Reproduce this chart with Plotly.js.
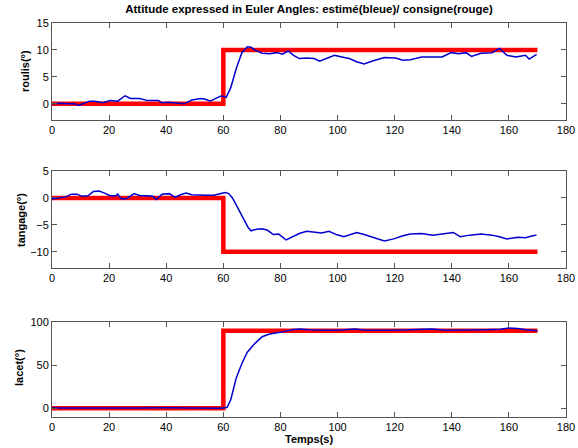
<!DOCTYPE html>
<html>
<head>
<meta charset="utf-8">
<script src="https://cdn.plot.ly/plotly-3.0.1.min.js"></script>
<style>html,body{margin:0;padding:0;background:#fff;}#chart{width:578px;height:448px;}</style>
</head>
<body>
<div id="chart"></div>
<script>
// reference (consigne) step values
const tRef = [0, 60, 170];
const refRoll = [0, 10, 10];
const refPitch = [0, -10, -10];
const refYaw = [0, 90, 90];

// estimated roll (roulis)
const tRoll = [0, 3, 6, 8, 9.3, 11, 13.2, 15, 17.8, 20.4, 23, 25.6, 27.5, 30.8, 33.4, 37.3, 38.5, 41, 43.7, 46.3, 49, 52.2, 54, 55.4, 57.4, 59.3, 61, 62.6, 64.5, 66.5, 68.4, 69.7, 71, 73.6, 76.2, 78.8, 80.7, 82.7, 84.6, 86.6, 89.2, 91.8, 93.7, 95.7, 98.9, 101.5, 104.1, 106.7, 109.3, 112.5, 116.4, 120.3, 122.9, 125.5, 129.4, 133.3, 136.6, 139.8, 142.4, 145, 146.9, 150.2, 154.1, 156.7, 159.3, 162.5, 165.8, 167.1, 169.7];
const roll = [0, 0.1, 0, 0, -0.3, 0, 0.5, 0.5, 0.2, 0.6, 0.5, 1.5, 1.0, 1.0, 0.6, 0.6, 0.2, 0.3, 0.1, 0.0, 0.7, 1.0, 0.8, 0.5, 1.0, 1.5, 1.2, 3.0, 6.5, 9.5, 10.6, 10.5, 10.0, 9.4, 9.3, 9.5, 9.2, 9.8, 9.0, 8.4, 8.5, 8.4, 7.9, 8.3, 9.0, 8.7, 8.4, 7.8, 7.4, 8.0, 8.6, 8.5, 8.1, 8.2, 8.7, 8.7, 8.7, 9.5, 9.3, 9.5, 8.8, 9.4, 9.5, 10.3, 9.0, 8.7, 9.0, 8.3, 9.2];

// estimated pitch (tangage)
const tPitch = [0, 2.2, 4.8, 6.7, 8.7, 10.6, 12.6, 14.5, 16.5, 18.4, 20.4, 22.3, 23, 24.3, 26.2, 28.8, 30.8, 33.4, 35.3, 36.6, 38.5, 41.1, 43.1, 45, 47, 48.9, 51.5, 54.1, 56.7, 58.7, 60.6, 61.9, 63.2, 65.2, 67.1, 68.7, 69.7, 71.6, 73.6, 75.5, 77.5, 79.4, 82, 84, 86.6, 89.2, 91.8, 94.4, 97, 99.6, 102.2, 104.8, 106.7, 109.3, 112.5, 116.4, 119.7, 122.9, 125.5, 129.4, 133.3, 137.2, 140.5, 143, 146.3, 150.2, 154.1, 156.7, 159.3, 163.2, 165.8, 168.4, 169.7];
const pitch = [-0.2, 0, 0.2, 0.7, 0.7, 0.3, 0.4, 1.2, 1.3, 0.9, 0.4, 0.4, 0.7, -0.2, -0.1, 0.8, 0.4, 0.4, 0.3, -0.3, 0.7, 0.8, 0.1, 0.6, 0.9, 0.6, 0.5, 0.5, 0.5, 0.7, 1.0, 0.8, 0, -2, -4, -5.5, -6.1, -5.8, -5.7, -6.0, -6.8, -6.7, -7.8, -7.3, -6.6, -6.2, -6.3, -6.5, -6.2, -6.8, -7.2, -6.7, -6.4, -6.8, -7.3, -8.0, -7.6, -7.0, -6.7, -6.6, -6.9, -6.7, -6.4, -7.2, -6.9, -6.7, -6.9, -7.2, -7.6, -7.3, -7.4, -7.0, -6.9];

// estimated yaw (lacet)
const tYaw = [0, 10, 20, 30, 40, 50, 59, 61.3, 62.6, 64.5, 66.5, 68.4, 71, 73.6, 76.2, 80, 84, 86.6, 90, 95, 100, 106, 110, 120, 128, 133, 138, 145, 152, 157, 160, 163, 166, 170];
const yaw = [0.5, 0.3, 0.6, 0.4, 0.7, 0.3, 0.2, 1, 10, 35, 52, 65, 75, 83, 86, 88, 91, 92, 91, 90.5, 90.5, 92, 90.5, 90.5, 91, 92, 90.5, 90.5, 91, 91.5, 93, 92.5, 91, 90];

const ylabels = ['roulis(°)', 'tangage(°)', 'lacet(°)'];
const xTicks = [0, 20, 40, 60, 80, 100, 120, 140, 160, 180];

const red = {color: '#ff0000', width: 4.5, shape: 'hv'};
const blue = {color: '#0000d0', width: 1.5};

const data = [
  {x: tRef, y: refRoll, xaxis: 'x', yaxis: 'y', mode: 'lines', line: red},
  {x: tRoll, y: roll, xaxis: 'x', yaxis: 'y', mode: 'lines', line: blue},
  {x: tRef, y: refPitch, xaxis: 'x2', yaxis: 'y2', mode: 'lines', line: red},
  {x: tPitch, y: pitch, xaxis: 'x2', yaxis: 'y2', mode: 'lines', line: blue},
  {x: tRef, y: refYaw, xaxis: 'x3', yaxis: 'y3', mode: 'lines', line: red},
  {x: tYaw, y: yaw, xaxis: 'x3', yaxis: 'y3', mode: 'lines', line: blue}
];

const H = 448;
const dom = (top, bot) => [1 - bot / H, 1 - top / H];
const font = {family: 'Liberation Sans, Arial, sans-serif', size: 11, color: '#000'};
const axBase = {
  showline: true, linecolor: '#555', linewidth: 1, mirror: 'ticks',
  ticks: 'inside', ticklen: 5, tickcolor: '#555', showgrid: false, zeroline: false,
  tickfont: font
};
const xax = (anchor) => Object.assign({}, axBase, {range: [0, 180], tickvals: xTicks, ticktext: xTicks.map(String), anchor: anchor});

const layout = {
  width: 578, height: 448,
  margin: {l: 52, r: 12, t: 0, b: 0},
  paper_bgcolor: '#fff', plot_bgcolor: '#fff',
  showlegend: false,
  font: font,
  title: {text: '<b>Attitude expressed in Euler Angles: estimé(bleue)/ consigne(rouge)</b>', font: {family: font.family, size: 11.5, color: '#000'}, x: 0.5, xref: 'paper', y: 1 - 9 / H, yref: 'container', yanchor: 'middle'},
  xaxis: xax('y'),
  xaxis2: xax('y2'),
  xaxis3: xax('y3'),
  yaxis: Object.assign({}, axBase, {domain: dom(23, 120), range: [-3, 15], tickvals: [0, 5, 10, 15], anchor: 'x'}),
  yaxis2: Object.assign({}, axBase, {domain: dom(171, 268), range: [-13, 5], tickvals: [-10, -5, 0, 5], anchor: 'x2'}),
  yaxis3: Object.assign({}, axBase, {domain: dom(322, 417), range: [-10, 100], tickvals: [0, 50, 100], anchor: 'x3'}),
  annotations: [
    {text: '<b>' + ylabels[0] + '</b>', xref: 'paper', yref: 'paper', x: (25 - 52) / 514, y: 1 - 71 / H, textangle: -90, showarrow: false, font: font, xanchor: 'center', yanchor: 'middle'},
    {text: '<b>' + ylabels[1] + '</b>', xref: 'paper', yref: 'paper', x: (21 - 52) / 514, y: 1 - 220 / H, textangle: -90, showarrow: false, font: font, xanchor: 'center', yanchor: 'middle'},
    {text: '<b>' + ylabels[2] + '</b>', xref: 'paper', yref: 'paper', x: (19 - 52) / 514, y: 1 - 368 / H, textangle: -90, showarrow: false, font: font, xanchor: 'center', yanchor: 'middle'},
    {text: '<b>Temps(s)</b>', xref: 'paper', yref: 'paper', x: 0.5, y: 1 - 439 / H, showarrow: false, font: font, xanchor: 'center', yanchor: 'middle'}
  ]
};
Plotly.newPlot('chart', data, layout, {staticPlot: true, displayModeBar: false});
</script>
</body>
</html>
